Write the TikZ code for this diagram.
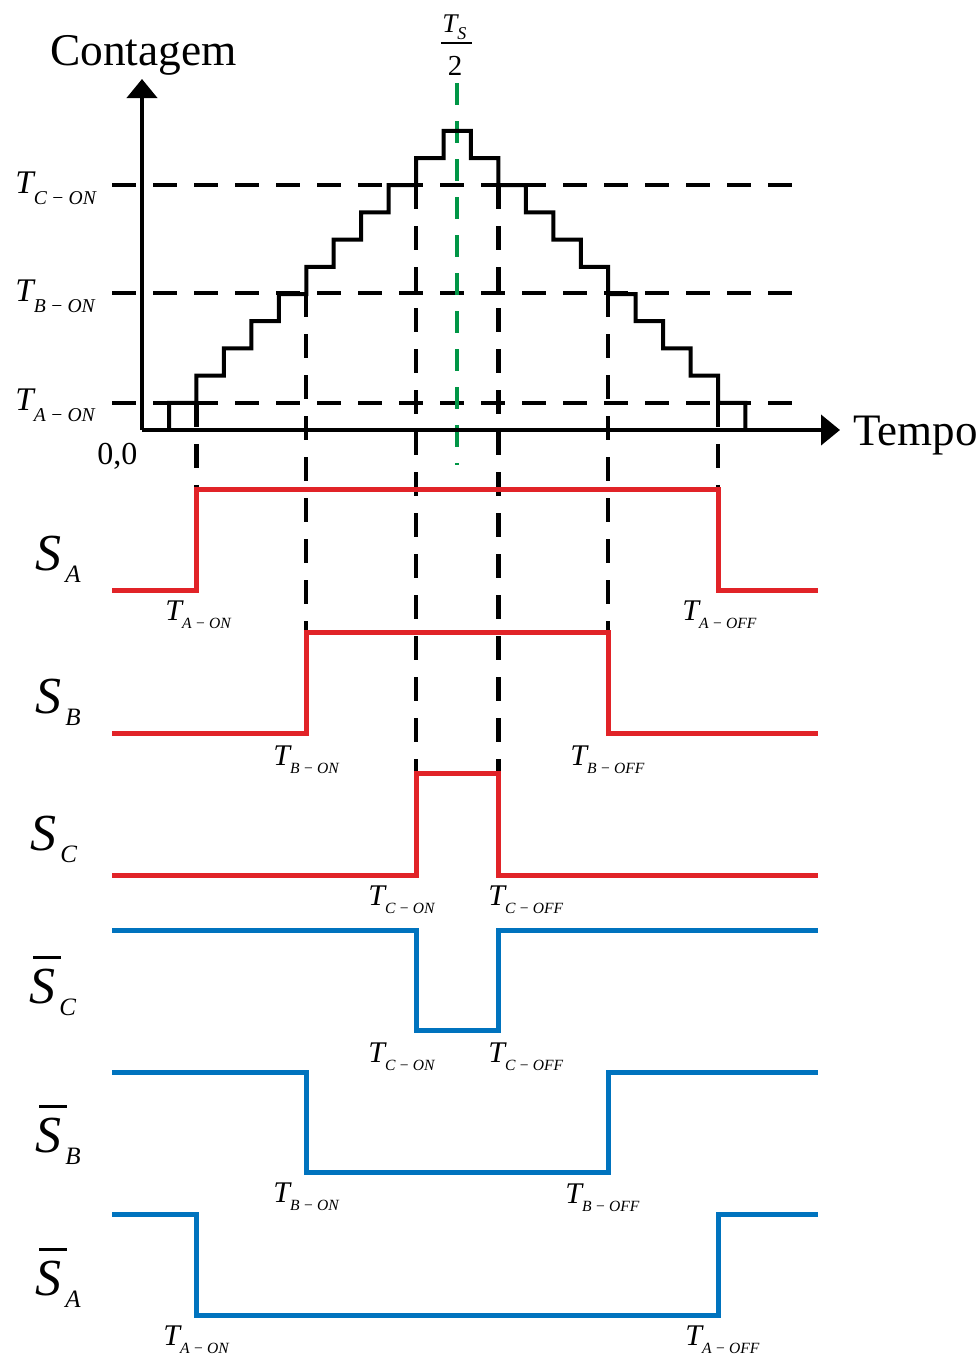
\documentclass[tikz,border=0pt]{standalone}
\usepackage{fontspec}
\setmainfont{Liberation Serif}
\usetikzlibrary{arrows.meta}
\definecolor{sigred}{RGB}{225,35,40}
\definecolor{sigblue}{RGB}{0,115,190}
\definecolor{tsgreen}{RGB}{0,150,70}
\newcommand\fs[1]{\fontsize{#1}{#1}\selectfont}
\newcommand\TLbig[2]{{\fs{16.5}\itshape T}\raisebox{-5.5pt}{\fs{9.8}\itshape #1\kern.22em−\kern.22em#2}}
\newcommand\TLsm[2]{{\fs{15}\itshape T}\raisebox{-4pt}{\fs{7.8}\itshape #1\kern.22em−\kern.22em#2}}
\newcommand\SL[1]{{\fs{26}\itshape S}\kern2pt\raisebox{-6pt}{\fs{12.5}\itshape #1}}
\newcommand\SLbar[1]{\rlap{\kern2pt\raisebox{22pt}{\rule{14pt}{1.5pt}}}\SL{#1}}
\begin{document}
\begin{tikzpicture}[x=0.5pt,y=-0.5pt,
  lbl/.style={inner sep=0pt, anchor=base west},
  guide/.style={line width=2.2pt, dash pattern=on 12pt off 8.5pt},
  tsline/.style={tsgreen, line width=2pt, dash pattern=on 11pt off 8pt},
  stair/.style={line width=2pt, line join=miter},
  axis/.style={line width=2pt, -{Triangle[length=9.5pt,width=15pt]}},
  redsig/.style={sigred, line width=2.5pt, line join=miter},
  bluesig/.style={sigblue, line width=2.5pt, line join=miter}]
\useasboundingbox (0,0) rectangle (980,1356);
% key coordinates
\coordinate (o) at (142,430);
\coordinate (ytip) at (142,79);
\coordinate (xtip) at (840,430);
% guide levels
\foreach \n/\y in {a/402.8, b/293.2, c/185.2}{
  \coordinate (\n L) at (112,\y);
  \coordinate (\n R) at (792,\y);
  \draw[guide] (\n L) -- (\n R);
}
% vertical guides
\coordinate (g1t) at (196.45,402.8); \coordinate (g1b) at (196.45,489);
\coordinate (g2t) at (306.25,293.2); \coordinate (g2b) at (306.25,632);
\coordinate (g3t) at (416.05,185.2); \coordinate (g3b) at (416.05,773);
\coordinate (g4t) at (498.4,185.2);  \coordinate (g4b) at (498.4,773);
\coordinate (g5t) at (608.2,293.2);  \coordinate (g5b) at (608.2,632);
\coordinate (g6t) at (718,402.8);    \coordinate (g6b) at (718,489);
\foreach \k in {1,...,6}{ \draw[guide] (g\k t) -- (g\k b); }
% Ts/2 line
\coordinate (gt) at (457.2,83);
\coordinate (gb) at (457.2,465);
\draw[tsline] (gt) -- (gb);
% staircase
\draw[stair] (169,430)
  \foreach \i in {0,...,10}{ -- ({169+27.45*\i},{430-27.2*(\i+1)}) -- ({169+27.45*(\i+1)},{430-27.2*(\i+1)}) }
  \foreach \i in {11,...,20}{ -- ({169+27.45*\i},{430-27.2*(21-\i)}) -- ({169+27.45*(\i+1)},{430-27.2*(21-\i)}) }
  -- (745.45,430);
% axes
\draw[axis] (o) -- (ytip);
\draw[axis] (o) -- (xtip);
% signals
\draw[redsig] (112,590) -- (196.45,590) -- (196.45,489) -- (718,489) -- (718,590) -- (818,590);
\draw[redsig] (112,733) -- (306.25,733) -- (306.25,632) -- (608.2,632) -- (608.2,733) -- (818,733);
\draw[redsig] (112,875) -- (416.05,875) -- (416.05,773) -- (498.4,773) -- (498.4,875) -- (818,875);
\draw[bluesig] (112,930) -- (416.05,930) -- (416.05,1030) -- (498.4,1030) -- (498.4,930) -- (818,930);
\draw[bluesig] (112,1072) -- (306.25,1072) -- (306.25,1172) -- (608.2,1172) -- (608.2,1072) -- (818,1072);
\draw[bluesig] (112,1214) -- (196.45,1214) -- (196.45,1315) -- (718,1315) -- (718,1214) -- (818,1214);
% axis labels
\node[inner sep=0pt, anchor=base] (cont) at (143.5,65) {\fs{22.7}Contagem};
\node[lbl] (tempo) at (853,445) {\fs{22.5}Tempo};
\node[lbl] (zero) at (97,464) {\fs{16}0,0};
% Ts/2
\node[lbl] (ts) at (442,32) {{\fs{13.5}\itshape T}\raisebox{-3.5pt}{\fs{9}\itshape S}};
\draw[line width=1pt] (441,43) -- (472,43);
\node[inner sep=0pt, anchor=base] (two) at (455,75) {\fs{14.5}2};
% level labels
\node[lbl] (lc) at (15,193) {\TLbig{C}{ON}};
\node[lbl] (lb) at (15,301) {\TLbig{B}{ON}};
\node[lbl] (la) at (15,410) {\TLbig{A}{ON}};
% signal labels
\node[lbl] (sa) at (35,570) {\SL{A}};
\node[lbl] (sb) at (35,713) {\SL{B}};
\node[lbl] (sc) at (30,850) {\SL{C}};
\node[lbl] (nsc) at (29,1003) {\SLbar{C}};
\node[lbl] (nsb) at (35,1152) {\SLbar{B}};
\node[lbl] (nsa) at (35,1295) {\SLbar{A}};
% timing labels
\node[lbl] at (165,620) {\TLsm{A}{ON}};
\node[lbl] at (682,620) {\TLsm{A}{OFF}};
\node[lbl] at (273,765) {\TLsm{B}{ON}};
\node[lbl] at (570,765) {\TLsm{B}{OFF}};
\node[lbl] at (368,905) {\TLsm{C}{ON}};
\node[lbl] at (488,905) {\TLsm{C}{OFF}};
\node[lbl] at (368,1062) {\TLsm{C}{ON}};
\node[lbl] at (488,1062) {\TLsm{C}{OFF}};
\node[lbl] at (273,1202) {\TLsm{B}{ON}};
\node[lbl] at (565,1203) {\TLsm{B}{OFF}};
\node[lbl] at (163,1345) {\TLsm{A}{ON}};
\node[lbl] at (685,1345) {\TLsm{A}{OFF}};
\end{tikzpicture}
\end{document}
